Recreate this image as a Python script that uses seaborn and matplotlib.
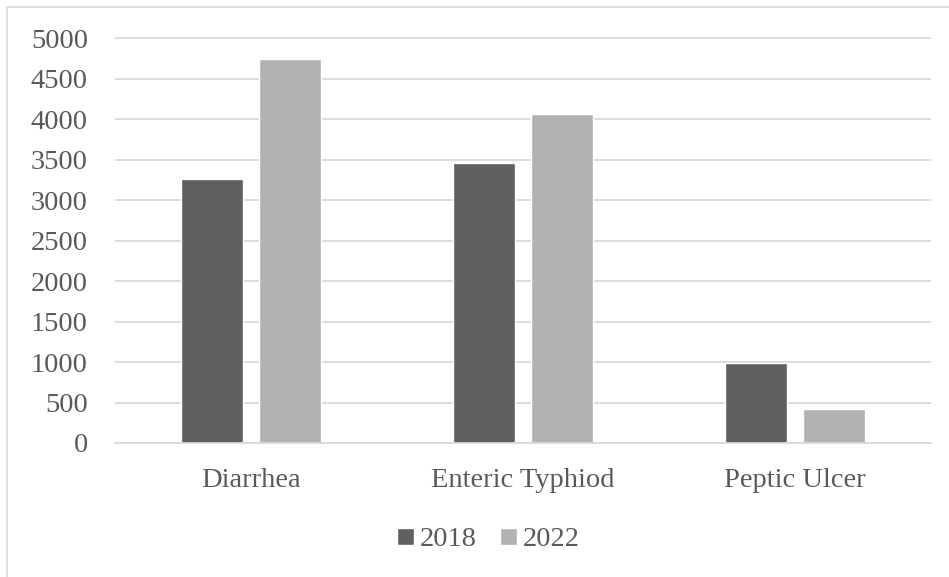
import matplotlib
matplotlib.use("Agg")
import matplotlib.pyplot as plt
from matplotlib.patches import Rectangle
import seaborn as sns
import pandas as pd

diseases = ["Diarrhea", "Enteric Typhiod", "Peptic Ulcer"]
years = ["2018", "2022"]
cases_2018 = [3255, 3455, 985]
cases_2022 = [4740, 4060, 425]
y_ticks = [0, 500, 1000, 1500, 2000, 2500, 3000, 3500, 4000, 4500, 5000]

df = pd.DataFrame({
    "disease": diseases * 2,
    "year": [years[0]] * 3 + [years[1]] * 3,
    "cases": cases_2018 + cases_2022,
})

sns.set_theme(style="white")
plt.rcParams["font.family"] = ["Liberation Serif", "DejaVu Serif"]
text_color = "#595959"
grid_color = "#d9d9d9"
font_size = 20.5

W, H, DPI = 949, 577, 100
fig = plt.figure(figsize=(W / DPI, H / DPI), dpi=DPI)
fig.patch.set_facecolor("white")

ax_left, ax_right = 115, 931
ax_bottom, ax_top = 443, 37.2
ax = fig.add_axes([ax_left / W, 1 - ax_bottom / H,
                   (ax_right - ax_left) / W, (ax_bottom - ax_top) / H])

sns.barplot(data=df, x="disease", y="cases", hue="year",
            palette=["#5f5f5f", "#b2b2b2"], saturation=1,
            width=0.573, gap=0.216, ax=ax, legend=True)

ax.set_ylim(0, 5010)
ax.set_xlim(-0.5, 2.5)
ax.set_yticks(y_ticks)
ax.set_yticklabels([str(t) for t in y_ticks])
ax.set_xlabel("")
ax.set_ylabel("")
ax.set_axisbelow(True)
ax.yaxis.grid(True, color=grid_color, lw=1.3)
ax.xaxis.grid(False)
for side in ["top", "right", "left"]:
    ax.spines[side].set_visible(False)
ax.spines["bottom"].set_color(grid_color)
ax.spines["bottom"].set_linewidth(1.3)
ax.tick_params(axis="both", length=0, labelsize=font_size, colors=text_color)
ax.tick_params(axis="y", pad=19.5)
ax.tick_params(axis="x", pad=18)

handles, labels = ax.get_legend_handles_labels()
ax.get_legend().remove()
fig.legend(handles, labels, loc="center", ncol=2,
           bbox_to_anchor=(488.5 / W, 1 - 540 / H), frameon=False,
           fontsize=font_size, labelcolor=text_color,
           handlelength=0.6, handleheight=0.55,
           handletextpad=0.22, columnspacing=0.8)

# outer chart frame
fig.patches.append(Rectangle((7 / W, -0.05), 1.2, 1.05 - 7 / H,
                             transform=fig.transFigure, fill=False,
                             edgecolor=grid_color, lw=1.2))

fig.savefig("out.png", dpi=DPI)
